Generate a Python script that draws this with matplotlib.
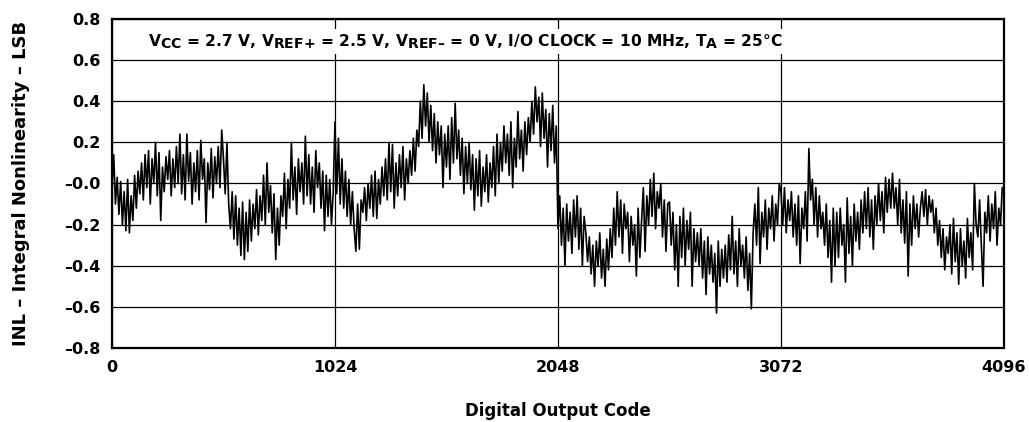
import numpy as np
from matplotlib import pyplot as plt
import matplotlib._mathtext as mathtext_internals

# INL, one value every 8 codes (16 values per 128-code block)
inl = np.array([
    -0.02, 0.14, -0.10, 0.03, -0.15, 0.01, -0.20, -0.04, -0.23, 0.02, -0.24, -0.06, -0.18, 0.04, -0.12, 0.06,
    -0.05, 0.10, -0.08, 0.14, -0.02, 0.16, -0.10, 0.12, 0.00, 0.20, -0.06, 0.15, -0.18, 0.08, -0.04, 0.13,
    0.02, 0.16, -0.06, 0.12, -0.02, 0.18, 0.00, 0.24, -0.05, 0.14, -0.08, 0.24, 0.01, 0.15, -0.10, 0.10,
    -0.04, 0.16, -0.08, 0.21, 0.02, 0.12, -0.19, 0.10, -0.03, 0.17, -0.07, 0.13, 0.00, 0.18, -0.02, 0.26,
    0.12, -0.05, 0.20, -0.10, -0.22, -0.04, -0.27, -0.06, -0.30, -0.12, -0.35, -0.09, -0.37, -0.14, -0.33, -0.08,
    -0.28, -0.10, -0.22, -0.03, -0.25, -0.06, -0.18, 0.04, -0.20, 0.10, -0.14, -0.01, -0.24, -0.05, -0.37, -0.12,
    -0.30, -0.06, -0.16, 0.05, -0.22, 0.02, -0.12, 0.20, -0.08, 0.08, -0.15, 0.12, -0.04, 0.10, -0.10, 0.23,
    -0.06, 0.14, -0.10, 0.08, -0.14, 0.16, -0.02, 0.10, -0.12, 0.06, -0.23, 0.04, -0.16, 0.02, -0.20, -0.04,
    0.30, -0.05, 0.22, -0.10, 0.12, -0.12, 0.06, -0.16, 0.02, -0.20, -0.04, -0.22, -0.33, -0.10, -0.32, -0.08,
    -0.14, -0.02, -0.18, 0.00, -0.12, 0.04, -0.16, 0.06, -0.17, 0.02, -0.10, 0.08, -0.06, 0.12, -0.08, 0.20,
    -0.04, 0.19, -0.12, 0.10, -0.06, 0.14, -0.02, 0.18, -0.08, 0.12, 0.00, 0.16, 0.04, 0.22, 0.06, 0.26,
    0.18, 0.40, 0.22, 0.48, 0.28, 0.44, 0.20, 0.38, 0.16, 0.34, 0.10, 0.30, 0.14, 0.28, -0.02, 0.24,
    0.08, 0.28, 0.02, 0.32, 0.10, 0.39, 0.12, 0.26, 0.04, 0.22, -0.05, 0.18, 0.00, 0.20, -0.03, 0.14,
    -0.13, 0.12, -0.06, 0.16, -0.11, 0.08, -0.04, 0.14, -0.09, 0.10, -0.02, 0.18, -0.06, 0.24, 0.00, 0.20,
    0.06, 0.28, 0.10, 0.24, 0.04, 0.30, -0.02, 0.22, 0.08, 0.35, 0.12, 0.26, 0.06, 0.30, 0.14, 0.32,
    0.20, 0.40, 0.24, 0.47, 0.30, 0.42, 0.18, 0.44, 0.22, 0.36, 0.08, 0.34, 0.16, 0.38, 0.10, 0.28,
    -0.22, -0.06, -0.30, -0.12, -0.40, -0.10, -0.28, -0.14, -0.34, -0.08, -0.26, -0.06, -0.32, -0.12, -0.40, -0.16,
    -0.24, -0.38, -0.26, -0.44, -0.30, -0.50, -0.28, -0.40, -0.24, -0.46, -0.32, -0.50, -0.27, -0.42, -0.22, -0.36,
    -0.12, -0.30, -0.04, -0.26, -0.08, -0.34, -0.10, -0.22, -0.14, -0.38, -0.16, -0.30, -0.20, -0.45, -0.12, -0.36,
    -0.18, -0.02, -0.33, -0.06, -0.20, 0.02, -0.16, 0.05, -0.22, -0.04, -0.12, 0.00, -0.26, -0.08, -0.33, -0.10,
    -0.09, -0.30, -0.14, -0.42, -0.20, -0.50, -0.16, -0.36, -0.12, -0.40, -0.18, -0.32, -0.14, -0.50, -0.22, -0.38,
    -0.24, -0.40, -0.22, -0.46, -0.28, -0.54, -0.26, -0.44, -0.30, -0.48, -0.34, -0.63, -0.28, -0.50, -0.32, -0.46,
    -0.30, -0.48, -0.25, -0.42, -0.16, -0.44, -0.28, -0.50, -0.22, -0.40, -0.30, -0.46, -0.26, -0.52, -0.34, -0.61,
    -0.24, -0.10, -0.30, -0.02, -0.39, -0.14, -0.26, -0.08, -0.32, -0.12, -0.22, -0.06, -0.28, -0.10, -0.20, 0.00,
    -0.04, -0.20, -0.02, -0.24, -0.08, -0.18, -0.04, -0.26, -0.10, -0.30, -0.06, -0.39, -0.12, -0.22, -0.04, -0.28,
    0.17, -0.08, 0.02, -0.20, -0.02, -0.26, -0.06, -0.22, -0.14, -0.30, -0.10, -0.36, -0.18, -0.48, -0.12, -0.40,
    -0.14, -0.36, -0.12, -0.30, -0.20, -0.48, -0.07, -0.34, -0.16, -0.40, -0.10, -0.28, -0.14, -0.32, -0.08, -0.24,
    -0.04, -0.22, -0.02, -0.26, -0.08, -0.32, -0.06, -0.20, 0.00, -0.18, -0.04, -0.24, 0.03, -0.14, 0.02, -0.12,
    0.05, -0.12, -0.02, -0.20, 0.02, -0.24, -0.08, -0.29, -0.04, -0.45, -0.10, -0.30, -0.06, -0.22, -0.10, -0.26,
    -0.12, -0.04, -0.16, -0.03, -0.20, -0.06, -0.14, -0.08, -0.24, -0.12, -0.30, -0.18, -0.36, -0.22, -0.42, -0.26,
    -0.34, -0.20, -0.44, -0.17, -0.38, -0.24, -0.49, -0.22, -0.40, -0.28, -0.46, -0.17, -0.36, -0.24, -0.42, 0.00,
    -0.20, -0.26, -0.08, -0.30, -0.50, -0.14, -0.24, -0.06, -0.28, -0.10, -0.22, -0.04, -0.30, -0.12, -0.20, -0.02,
])
codes = np.arange(len(inl)) * 8

xticks = [0, 1024, 2048, 3072, 4096]
yticks = [-0.8, -0.6, -0.4, -0.2, 0.0, 0.2, 0.4, 0.6, 0.8]
ytick_labels = ['\u20130.8', '\u20130.6', '\u20130.4', '\u20130.2', '\u20130.0', '0.2', '0.4', '0.6', '0.8']

plt.rcParams['font.family'] = 'DejaVu Sans'
plt.rcParams['font.weight'] = 'bold'
plt.rcParams['mathtext.fontset'] = 'custom'
plt.rcParams['mathtext.rm'] = 'DejaVu Sans:bold'
plt.rcParams['mathtext.it'] = 'DejaVu Sans:bold'
plt.rcParams['mathtext.bf'] = 'DejaVu Sans:bold'
# subscripts in the original are nearly full size
mathtext_internals.SHRINK_FACTOR = 0.9

fig = plt.figure(figsize=(10.29, 4.22), dpi=100)
ax = fig.add_axes([0.1088, 0.1754, 0.8669, 0.7796])

ax.plot(codes, inl, color='black', lw=1.2, zorder=3)

ax.set_xlim(0, 4096)
ax.set_ylim(-0.8, 0.8)
ax.set_xticks(xticks)
ax.set_xticklabels([str(t) for t in xticks])
ax.set_yticks(yticks)
ax.set_yticklabels(ytick_labels)
ax.tick_params(axis='both', length=0, labelsize=11.5)
ax.tick_params(axis='y', pad=8)
ax.tick_params(axis='x', pad=9)
ax.grid(True, color='black', lw=0.9)
ax.set_axisbelow(True)
for s in ax.spines.values():
    s.set_linewidth(1.6)

ax.set_xlabel('Digital Output Code', fontsize=12, fontweight='bold', labelpad=19)
ax.set_ylabel('INL \u2013 Integral Nonlinearity \u2013 LSB', fontsize=13, fontweight='bold', labelpad=25)

label = ('$\\mathrm{V_{CC}}$ = 2.7 V, $\\mathrm{V_{REF{+}}}$ = 2.5 V, $\\mathrm{V_{REF\u2013}}$ = 0 V, '
         'I/O CLOCK = 10 MHz, $\\mathrm{T_{A}}$ = 25\u00b0C')
ax.text(165, 0.69, label, fontsize=11.2, fontweight='bold', va='center', ha='left', zorder=4,
        bbox=dict(boxstyle='square,pad=0.2', facecolor='white', edgecolor='none'))

fig.savefig('out.png', dpi=100)
